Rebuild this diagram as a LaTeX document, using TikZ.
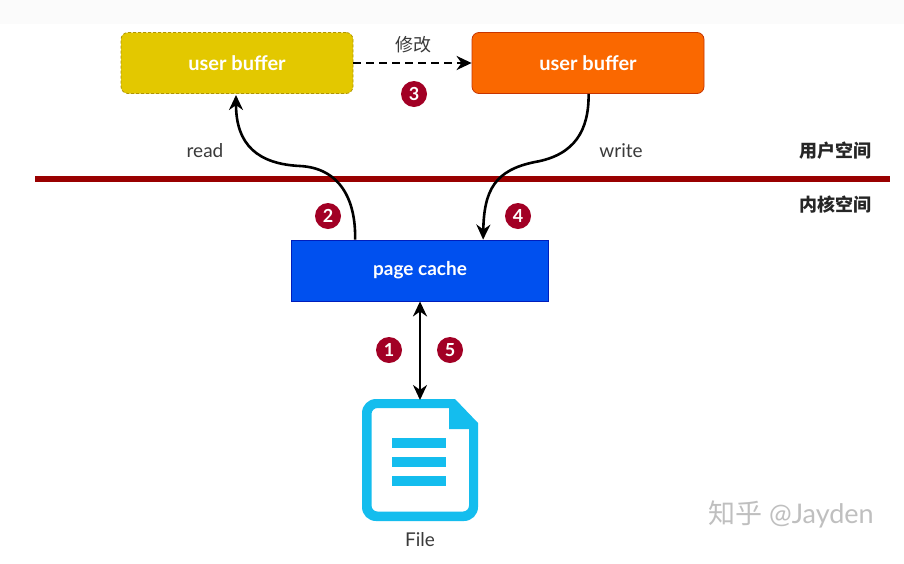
\documentclass[tikz,border=0pt]{standalone}
\usepackage{fontspec}
\setmainfont{Lato}
\newfontfamily\cjk{Noto Sans CJK SC}
\usetikzlibrary{arrows.meta,calc}
\definecolor{ybox}{HTML}{E3C800}
\definecolor{yline}{HTML}{B09500}
\definecolor{obox}{HTML}{FA6800}
\definecolor{oline}{HTML}{C73500}
\definecolor{bbox}{HTML}{0050EF}
\definecolor{bline}{HTML}{001DBC}
\definecolor{redline}{HTML}{990000}
\definecolor{badge}{HTML}{A20025}
\definecolor{fileblue}{HTML}{14BDEE}
\definecolor{txt}{HTML}{3A3A3A}
\tikzset{
  x=1pt,y=-1pt,
  boxlabel/.style={text=white,font=\fontsize{20}{22}\selectfont\bfseries,align=center,inner sep=0pt},
  ubuf/.style={boxlabel,minimum width=232pt,minimum height=61pt,rounded corners=7pt},
  num/.style={circle,fill=badge,text=white,minimum size=26pt,inner sep=0pt,font=\fontsize{18}{18}\selectfont\bfseries},
  lbl/.style={text=txt,font=\fontsize{19}{22}\selectfont,inner sep=0pt},
  cjklbl/.style={text=txt,font=\cjk\fontsize{18}{20}\selectfont,inner sep=0pt},
  cjkbold/.style={text=black!85,font=\cjk\fontsize{18}{20}\selectfont\bfseries,inner sep=0pt},
  conn/.style={black,line width=2.6pt,-{Stealth[length=15pt,width=14pt]}},
}
\begin{document}
\begin{tikzpicture}
\useasboundingbox (0,0) rectangle (904,563);
\fill[white] (0,0) rectangle (904,563);
\fill[black!1.5] (0,0) rectangle (904,24);
% divider
\coordinate (divL) at (35,179);
\coordinate (divR) at (890,179);
\draw[redline,line width=6pt] (divL) -- (divR);
% boxes
\node[ubuf,fill=ybox,draw=yline,densely dashed,line width=.8pt] (ub1) at (237,63) {user buffer};
\node[ubuf,fill=obox,draw=oline,line width=.8pt] (ub2) at (588,63) {user buffer};
\node[boxlabel,fill=bbox,draw=bline,line width=.8pt,minimum width=257pt,minimum height=61pt,font=\fontsize{19}{22}\selectfont\bfseries] (cache) at (420,270.5) {page cache};
% file icon
\coordinate (fileTop) at (420,400);
\fill[fileblue,even odd rule]
  [rounded corners=14pt] (420,399) -- (362,399) -- (362,521) -- (478,521) -- (478,450)
  [rounded corners=0pt] -- (478,423) -- (455,399) -- cycle
  [rounded corners=6pt] (420,408) -- (371.5,408) -- (371.5,511.5) -- (469,511.5) -- (469,470)
  [rounded corners=0pt] -- (469,429) -- (449,429) -- (449,408) -- cycle;
\fill[fileblue] (392,438) rectangle (446,448);
\fill[fileblue] (392,457) rectangle (446,467);
\fill[fileblue] (392,476) rectangle (446,486);
\node[lbl] (filelbl) at (420,540) {File};
% connectors
\draw[conn,dash pattern=on 8pt off 5pt] (ub1.east) -- (ub2.west);
\draw[conn] ($(cache.north west)+(64,0)$) .. controls (356,200) and (340,168) .. (300,166)
  .. controls (258,164) and (236,145) .. (236,95);
\draw[conn] ($(ub2.south west)+(117,0)$) .. controls (589,130) and (575,155) .. (535,162)
  .. controls (495,170) and (484,190) .. ($(cache.north west)+(192,0)$);
\draw[conn,{Stealth[length=15pt,width=14pt]}-{Stealth[length=15pt,width=14pt]}] (cache.south) -- (fileTop);
% labels
\node[cjklbl] (xg) at (413,45) {修改};
\node[lbl] (rd) at (205,151) {read};
\node[lbl] (wr) at (621,151) {write};
\node[cjkbold] (us) at (835,151) {用户空间};
\node[cjkbold] (ks) at (835,205) {内核空间};
\node[num] (n3) at (414,94) {3};
\node[num] (n2) at (328,216) {2};
\node[num] (n4) at (518,216) {4};
\node[num] (n1) at (389,350) {1};
\node[num] (n5) at (450,350) {5};
\node[text=black!25,font=\fontsize{27}{30}\selectfont,inner sep=0pt] (wm) at (791,514) {{\cjk 知乎} @Jayden};
\end{tikzpicture}
\end{document}
